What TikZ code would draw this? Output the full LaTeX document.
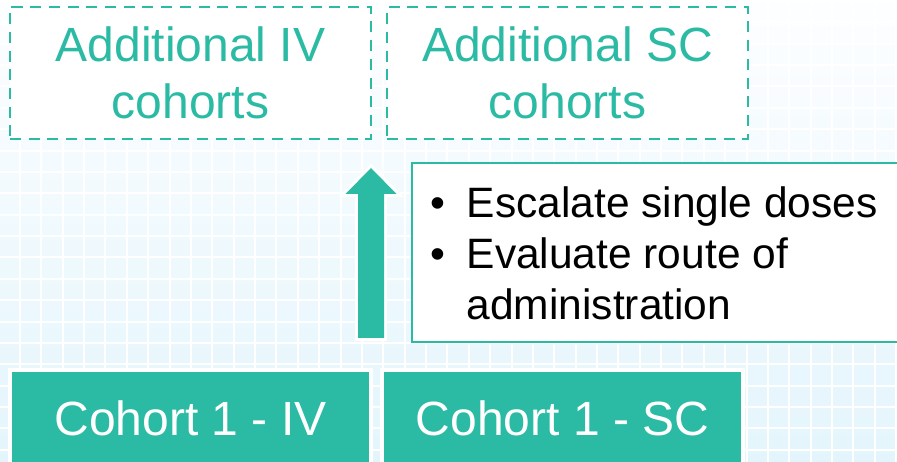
\documentclass[tikz,border=0pt]{standalone}
\usepackage{fontspec}
\setmainfont{Liberation Sans}
\usetikzlibrary{positioning}

\definecolor{teal1}{RGB}{43,187,165}
\definecolor{bgtop}{RGB}{253,254,255}
\definecolor{bgmid}{RGB}{240,249,254}
\definecolor{bgbottom}{RGB}{227,245,252}

\begin{document}
\begin{tikzpicture}[x=1pt, y=-1pt,
  addbox/.style={draw=teal1, dash pattern=on 11pt off 7.7pt, line width=2.3pt, fill=white,
    minimum width=361pt, minimum height=132pt, outer sep=0pt, align=center,
    text=teal1, font=\fontsize{48}{57}\selectfont},
  cohortbox/.style={fill=teal1, preaction={draw=white, line width=8pt},
    minimum width=357pt, minimum height=92pt, outer sep=0pt,
    text=white, font=\fontsize{48}{57}\selectfont},
  notebox/.style={draw=teal1, line width=2pt, fill=white, anchor=north west,
    minimum width=520pt, minimum height=179pt, outer sep=0pt},
  gridline/.style={white, line width=2pt},
  uparrow/.style={fill=teal1, preaction={draw=white, line width=6pt}}]

  \useasboundingbox (0,0) rectangle (897,462);
  \clip (0,0) rectangle (897,462);

  % backdrop
  \shade[top color=bgtop, middle color=bgmid, bottom color=bgbottom] (0,0) rectangle (897,462);
  \foreach \i in {-1,...,41}
    \draw[gridline] ({20+21.37*\i},0) -- ++(0,462);
  \foreach \j in {0,...,21}
    \draw[gridline] (0,{1+21.37*\j}) -- ++(897,0);

  \node (addIV) [addbox] at (190.5,73) {Additional IV\\cohorts};
  \node (addSC) [addbox, right=16pt of addIV] {Additional SC\\cohorts};

  \node (cohIV) [cohortbox] at (190.5,418) {Cohort 1 - IV};
  \node (cohSC) [cohortbox, right=15pt of cohIV] {Cohort 1 - SC};

  \coordinate (tail) at (371,338);
  \coordinate (tip) at (371,168);
  \path[uparrow] (tail) ++(-13,0) -- ++(0,-144) -- ++(-12.5,0) -- (tip)
    -- ++(25.5,26) -- ++(-12.5,0) -- ++(0,144) -- cycle;

  \node (note) [notebox] at (412,163) {};
  \node (steps) [anchor=base west, inner sep=0pt, font=\fontsize{42.5}{51}\selectfont]
    at (430.6,218) {\begin{tabular}[t]{@{}l@{\hspace{21pt}}l@{}}
      \textbullet & Escalate single doses\\
      \textbullet & Evaluate route of\\
                  & administration
    \end{tabular}};
\end{tikzpicture}
\end{document}
